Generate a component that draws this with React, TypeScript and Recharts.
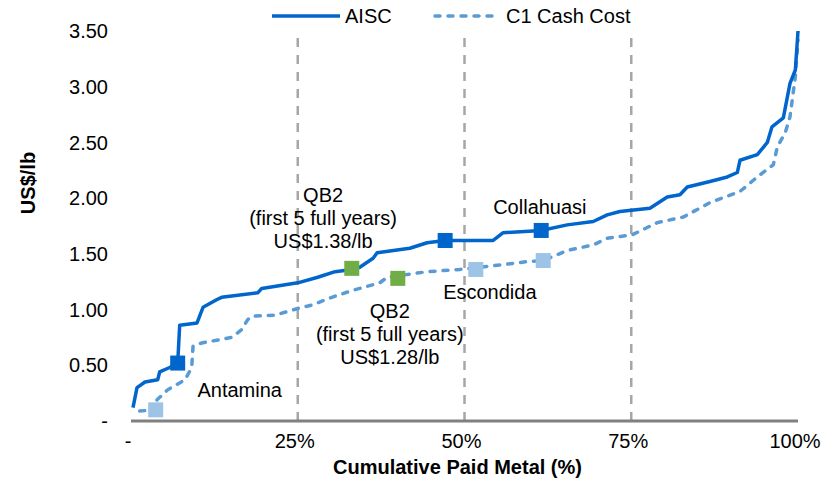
import {
  ComposedChart,
  Line,
  Scatter,
  XAxis,
  YAxis,
  ReferenceLine,
} from "recharts";

// cumulative paid metal (%) vs cost (US$/lb)
const AISC_X = [0.3, 0.9, 2.1, 4.0, 4.3, 5.8, 7.0, 7.3, 9.9, 10.8, 12.9, 13.6, 19.0, 19.6, 25.0, 28.0, 30.6, 33.1, 34.3, 36.3, 36.9, 41.8, 44.4, 47.1, 54.3, 55.8, 61.5, 65.4, 69.3, 71.4, 73.3, 77.8, 80.4, 82.3, 83.4, 86.8, 89.4, 90.9, 91.3, 93.9, 95.4, 96.1, 97.8, 98.8, 99.6, 100];
const AISC_Y = [0.12, 0.30, 0.35, 0.37, 0.44, 0.48, 0.52, 0.86, 0.88, 1.02, 1.09, 1.11, 1.15, 1.19, 1.24, 1.29, 1.34, 1.36, 1.38, 1.46, 1.51, 1.55, 1.60, 1.62, 1.62, 1.69, 1.71, 1.76, 1.79, 1.85, 1.88, 1.91, 2.01, 2.03, 2.10, 2.15, 2.19, 2.23, 2.34, 2.39, 2.50, 2.64, 2.72, 3.03, 3.15, 3.50];

const C1_X = [1.3, 3.7, 3.9, 5.5, 8.1, 9.1, 9.3, 10.6, 15.1, 16.6, 17.5, 18.1, 21.6, 25.0, 27.1, 30.1, 33.1, 34.3, 37.3, 38.4, 44.4, 49.3, 55.3, 59.4, 61.8, 65.4, 69.3, 71.4, 75.1, 78.9, 82.8, 86.8, 91.3, 93.9, 96.3, 96.9, 98.1, 98.8, 99.6, 100];
const C1_Y = [0.09, 0.10, 0.19, 0.28, 0.37, 0.48, 0.67, 0.70, 0.75, 0.82, 0.91, 0.94, 0.95, 1.01, 1.04, 1.11, 1.17, 1.19, 1.24, 1.29, 1.34, 1.36, 1.40, 1.43, 1.44, 1.53, 1.58, 1.64, 1.67, 1.78, 1.83, 1.96, 2.06, 2.19, 2.30, 2.46, 2.59, 2.73, 3.09, 3.42];

// highlighted assets
const MINES = ["Antamina", "QB2", "Escondida", "Collahuasi"];
const MINE_AISC_X = [7.0, 33.1, 47.1, 61.5];
const MINE_AISC_Y = [0.52, 1.37, 1.62, 1.71];
const MINE_C1_X = [3.7, 40.0, 51.7, 61.8];
const MINE_C1_Y = [0.10, 1.28, 1.36, 1.44];

const X_TICKS = [0, 25, 50, 75, 100];
const Y_TICKS = [0, 0.5, 1, 1.5, 2, 2.5, 3, 3.5];
const DIVIDERS = [25, 50, 75];

const NOTE_LINES = [
  ["QB2", "(first 5 full years)", "US$1.38/lb"],
  ["QB2", "(first 5 full years)", "US$1.28/lb"],
  ["Collahuasi"],
  ["Escondida"],
  ["Antamina"],
];
const NOTE_X = [28.8, 38.8, 61.3, 53.8, 16.3];
const NOTE_Y = [1.82, 0.78, 1.925, 1.16, 0.28];

const DARK = "#0066CC";
const LIGHT = "#5B9BD5";
const LIGHT_MARK = "#9DC3E6";
const GREEN = "#70AD47";
const FONT = "'Liberation Sans', Arial, sans-serif";

const aiscData = AISC_X.map((x, i) => ({ x, y: AISC_Y[i] }));
const c1Data = C1_X.map((x, i) => ({ x, y: C1_Y[i] }));
const aiscMarks = MINES.map((name, i) => ({ name, x: MINE_AISC_X[i], y: MINE_AISC_Y[i], fill: name === "QB2" ? GREEN : DARK }));
const c1Marks = MINES.map((name, i) => ({ name, x: MINE_C1_X[i], y: MINE_C1_Y[i], fill: name === "QB2" ? GREEN : LIGHT_MARK }));
const notes = NOTE_LINES.map((lines, i) => ({ lines, x: NOTE_X[i], y: NOTE_Y[i] }));

const Square = (props: any) => {
  const { cx, cy, payload } = props;
  if (cx == null || cy == null) return null;
  return <rect x={cx - 7.5} y={cy - 7.5} width={15} height={15} fill={payload.fill} />;
};

const Note = (props: any) => {
  const { cx, cy, payload } = props;
  if (cx == null || cy == null) return null;
  const lines: string[] = payload.lines;
  const lh = 23;
  const top = cy - ((lines.length - 1) * lh) / 2;
  return (
    <text textAnchor="middle" fontSize={20} fontFamily={FONT} fill="#000">
      {lines.map((l, i) => (
        <tspan key={i} x={cx} y={top + i * lh} dy="0.35em">
          {l}
        </tspan>
      ))}
    </text>
  );
};

export default function App() {
  return (
    <div style={{ position: "absolute", left: 0, top: 0, width: 835, height: 484, background: "#fff" }}>
      <ComposedChart width={835} height={484} margin={{ top: 31, right: 37, left: 0, bottom: 0 }}>
        <XAxis
          type="number"
          dataKey="x"
          domain={[0, 100]}
          ticks={X_TICKS}
          tickFormatter={(v: number) => (v === 0 ? "-" : `${v}%`)}
          tickLine={false}
          tickSize={0}
          tickMargin={13}
          height={63}
          axisLine={{ stroke: "#808080", strokeWidth: 3 }}
          tick={{ fontSize: 20, fill: "#000", fontFamily: FONT, dx: -3 }}
          label={{
            content: (p: any) => {
              const vb = p.viewBox;
              return (
                <text x={vb.x + vb.width / 2 - 7} y={vb.y + 46} dy="0.35em" textAnchor="middle" fontSize={20} fontWeight="bold" fontFamily={FONT} fill="#000">
                  Cumulative Paid Metal (%)
                </text>
              );
            },
          }}
        />
        <YAxis
          type="number"
          dataKey="y"
          domain={[0, 3.5]}
          ticks={Y_TICKS}
          tickFormatter={(v: number) => (v === 0 ? "-" : v.toFixed(2))}
          axisLine={false}
          tickLine={false}
          tickSize={0}
          tickMargin={23}
          width={131}
          tick={{ fontSize: 20, fill: "#000", fontFamily: FONT }}
          label={{
            content: () => (
              <text x={28} y={183} dy="0.35em" textAnchor="middle" transform="rotate(-90 28 183)" fontSize={20} fontWeight="bold" fontFamily={FONT} fill="#000">
                US$/lb
              </text>
            ),
          }}
        />
        {DIVIDERS.map((d) => (
          <ReferenceLine key={d} x={d} stroke="#A6A6A6" strokeWidth={2.5} strokeDasharray="9 8" />
        ))}
        <Line data={c1Data} dataKey="y" type="linear" stroke={LIGHT} strokeWidth={3.5} strokeDasharray="5 8" strokeLinecap="round" dot={false} isAnimationActive={false} />
        <Line data={aiscData} dataKey="y" type="linear" stroke={DARK} strokeWidth={3.5} strokeLinejoin="round" dot={false} isAnimationActive={false} />
        <Scatter data={aiscMarks} dataKey="y" shape={Square} isAnimationActive={false} />
        <Scatter data={c1Marks} dataKey="y" shape={Square} isAnimationActive={false} />
        <Scatter data={notes} dataKey="y" shape={Note} isAnimationActive={false} />
      </ComposedChart>
      <svg width={835} height={34} style={{ position: "absolute", left: 0, top: 0 }}>
        <line x1={272} x2={340} y1={16} y2={16} stroke={DARK} strokeWidth={3.5} />
        <text x={345} y={16} dy="0.35em" fontSize={20} fontFamily={FONT} fill="#000">AISC</text>
        <line x1={435} x2={500} y1={16} y2={16} stroke={LIGHT} strokeWidth={3.5} strokeDasharray="5 8" strokeLinecap="round" />
        <text x={506} y={16} dy="0.35em" fontSize={20} fontFamily={FONT} fill="#000">C1 Cash Cost</text>
      </svg>
    </div>
  );
}
